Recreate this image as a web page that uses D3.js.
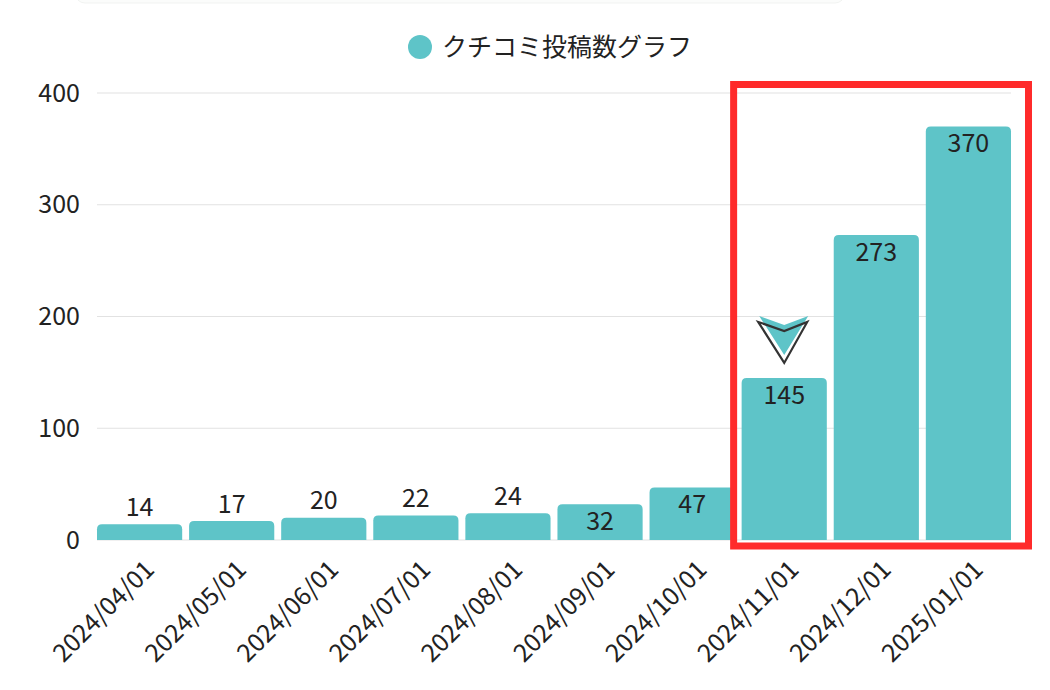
<!DOCTYPE html>
<html>
<head>
<meta charset="utf-8">
<script src="https://cdn.jsdelivr.net/npm/d3@7"></script>
<style>
  body { margin: 0; background: #fff; }
  text { font-family: "Noto Sans CJK JP", "Noto Sans", sans-serif; fill: #222; }
</style>
</head>
<body>
<div id="chart"></div>
<script>
// chart data
var categories = ["2024/04/01", "2024/05/01", "2024/06/01", "2024/07/01", "2024/08/01",
   "2024/09/01", "2024/10/01", "2024/11/01", "2024/12/01", "2025/01/01"];
var counts = [14, 17, 20, 22, 24, 32, 47, 145, 273, 370];
var yTicks = [0, 100, 200, 300, 400];
var seriesName = "クチコミ投稿数グラフ";
var highlighted = ["2024/11/01", "2025/01/01"]; // first and last month inside the red box
var arrowAt = "2024/11/01";

var svgWidth = 1050;
var svgHeight = 690;

var margin = { top: 93, right: 39, bottom: 150, left: 97 };
var barColor = "#5ec4c8";
var fontSize = 25;

var svg = d3.select("#chart")
   .append("svg")
   .attr("width", svgWidth)
   .attr("height", svgHeight);

// faint card edge at the very top
svg.append("rect")
   .attr("x", 75).attr("y", -30)
   .attr("width", 770).attr("height", 33)
   .attr("rx", 10)
   .attr("fill", "#fbfcfb")
   .attr("stroke", "#f1f3f1");

var xScale = d3.scaleBand()
   .domain(categories)
   .range([margin.left, svgWidth - margin.right])
   .paddingInner(0.075)
   .paddingOuter(0);

var yScale = d3.scaleLinear()
   .domain([0, 400])
   .range([svgHeight - margin.bottom, margin.top]);

// gridlines
svg.append("g")
   .selectAll("line")
   .data(yTicks)
   .enter()
   .append("line")
   .attr("x1", margin.left)
   .attr("x2", svgWidth - margin.right)
   .attr("y1", d => yScale(d))
   .attr("y2", d => yScale(d))
   .attr("stroke", "#e2e2e2")
   .attr("stroke-width", 1.2);

// y axis labels
var leftAxis = d3.axisLeft(yScale).tickValues(yTicks).tickSize(0).tickPadding(17);
var yAxis = svg.append("g")
   .attr("transform", `translate(${margin.left}, 0)`)
   .call(leftAxis);
yAxis.select(".domain").remove();
yAxis.selectAll("text")
   .attr("font-size", fontSize)
   .attr("font-family", "Noto Sans CJK JP")
   .attr("fill", "#222");

// x axis labels, rotated
var bottomAxis = d3.axisBottom(xScale).tickSize(0);
var xAxis = svg.append("g")
   .attr("transform", `translate(0, ${yScale(0)})`)
   .call(bottomAxis);
xAxis.select(".domain").remove();
xAxis.selectAll("text")
   .attr("font-size", fontSize)
   .attr("font-family", "Noto Sans CJK JP")
   .attr("fill", "#222")
   .attr("text-anchor", "end")
   .attr("dy", "0.35em")
   .attr("transform", "translate(10, 25) rotate(-45)")
   .attr("x", 0)
   .attr("y", 0);

// bars with rounded top corners
function barPath(d, i) {
   var x0 = xScale(categories[i]);
   var w = xScale.bandwidth();
   var y0 = yScale(0);
   var y1 = yScale(d);
   var r = Math.min(5, (y0 - y1) / 2);
   return `M${x0},${y0} V${y1 + r} Q${x0},${y1} ${x0 + r},${y1} H${x0 + w - r} Q${x0 + w},${y1} ${x0 + w},${y1 + r} V${y0} Z`;
}

svg.append("g")
   .selectAll("path")
   .data(counts)
   .enter()
   .append("path")
   .attr("d", barPath)
   .attr("fill", barColor);

// value labels: above short bars, inside taller ones
svg.append("g")
   .selectAll("text")
   .data(counts)
   .enter()
   .append("text")
   .attr("x", (d, i) => xScale(categories[i]) + xScale.bandwidth() / 2)
   .attr("y", d => d >= 30 ? yScale(d) + 17 : yScale(d) - 17)
   .attr("dy", "0.35em")
   .attr("text-anchor", "middle")
   .attr("font-size", fontSize)
   .text(d => d);

// legend
var legend = svg.append("g");
legend.append("circle")
   .attr("cx", 420).attr("cy", 47).attr("r", 12)
   .attr("fill", barColor);
legend.append("text")
   .attr("x", 442).attr("y", 47)
   .attr("dy", "0.35em")
   .attr("font-size", fontSize)
   .text(seriesName);

// red highlight box
var boxLeft = xScale(highlighted[0]) - 8;
var boxRight = xScale(highlighted[1]) + xScale.bandwidth() + 17.5;
svg.append("rect")
   .attr("x", boxLeft)
   .attr("y", margin.top - 8.5)
   .attr("width", boxRight - boxLeft)
   .attr("height", yScale(0) + 6 - (margin.top - 8.5))
   .attr("fill", "none")
   .attr("stroke", "#ff2b2b")
   .attr("stroke-width", 7);

// arrow marker above the Nov bar
var ax = xScale(arrowAt) + xScale.bandwidth() / 2;
var ay = yScale(counts[categories.indexOf(arrowAt)]);
svg.append("path")
   .attr("d", `M${ax - 25},${ay - 62} L${ax},${ay - 53} L${ax + 24},${ay - 62} L${ax},${ay - 23} Z`)
   .attr("fill", barColor);
svg.append("path")
   .attr("d", `M${ax - 26},${ay - 56} L${ax},${ay - 47} L${ax + 23},${ay - 56} L${ax},${ay - 15} Z`)
   .attr("fill", "none")
   .attr("stroke", "#333")
   .attr("stroke-width", 2.2)
   .attr("stroke-linejoin", "miter");
</script>
</body>
</html>
